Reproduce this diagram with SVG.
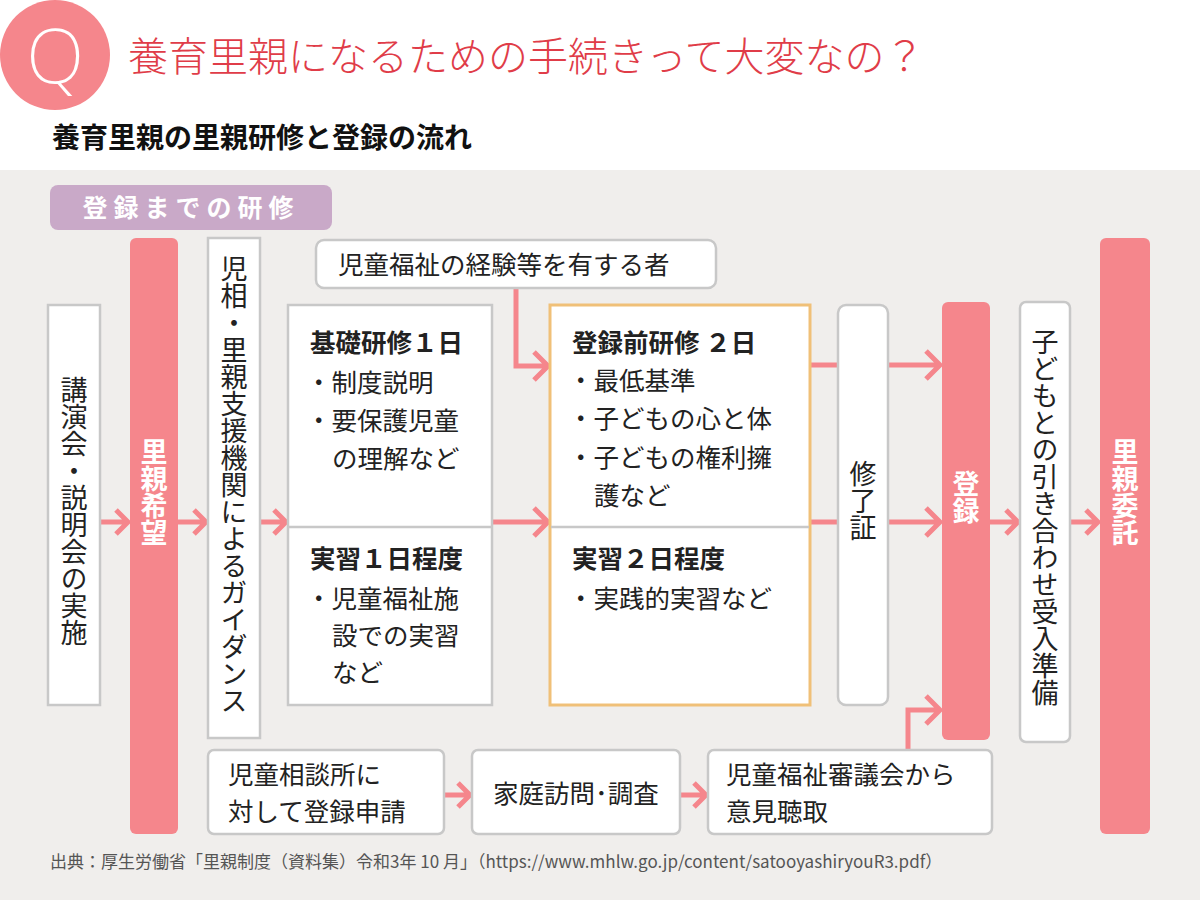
<svg xmlns="http://www.w3.org/2000/svg" width="1200" height="900" viewBox="0 0 1200 900">
<style>
text{font-family:"Noto Sans CJK JP","Noto Sans",sans-serif;fill:#222}
.box{fill:#fff;stroke:#c8c8c8;stroke-width:2.5}
.pink{fill:#f5868c}
.t{font-size:25.5px}
.h{font-size:25.5px;font-weight:bold}
.v{font-size:27px;writing-mode:vertical-rl}
.vw{font-size:27px;writing-mode:vertical-rl;fill:#fff;font-weight:bold}
.ar{fill:none;stroke:#f5868c;stroke-width:5;stroke-linecap:butt;stroke-linejoin:miter}
</style>
<rect width="1200" height="900" fill="#fff"/>
<rect y="170" width="1200" height="730" fill="#f0eeec"/>
<g id="header">
<circle cx="55" cy="55" r="55" fill="#f5868c"/>
<text x="55" y="83" text-anchor="middle" style="font-family:'Noto Sans',sans-serif;font-weight:200;font-size:76px;fill:#fff">Q</text>
<text x="128" y="71" style="font-size:40px;fill:#e03c48;font-weight:300">養育里親になるための手続きって大変なの？</text>
<text x="52" y="148" style="font-size:28px;font-weight:bold;fill:#111">養育里親の里親研修と登録の流れ</text>
</g>
<g id="label">
<rect x="50" y="185" width="282" height="45" rx="8" fill="#c9a9c8"/>
<text x="191" y="217" text-anchor="middle" style="font-size:25px;font-weight:bold;fill:#fff;letter-spacing:6px">登録までの研修</text>
</g>
<g id="connectors">
<path class="ar" d="M100 522H128M116 510l12 12-12 12"/>
<path class="ar" d="M178 522H206M194 510l12 12-12 12"/>
<path class="ar" d="M260 522H286M274 510l12 12-12 12"/>
<path class="ar" d="M492 522H548M534 508l14 14-14 14"/>
<path class="ar" d="M516 288V366H548M534 352l14 14-14 14"/>
<path class="ar" d="M810 365H838M810 522H838"/>
<path class="ar" d="M888 365H940M926 351l14 14-14 14"/>
<path class="ar" d="M888 522H940M926 508l14 14-14 14"/>
<path class="ar" d="M990 522H1018M1006 510l12 12-12 12"/>
<path class="ar" d="M1070 522H1098M1086 510l12 12-12 12"/>
<path class="ar" d="M444 795H470M458 783l12 12-12 12"/>
<path class="ar" d="M680 795H706M694 783l12 12-12 12"/>
<path class="ar" d="M908 750V710H940M926 696l14 14-14 14"/>
</g>
<g id="n1"><rect class="box" x="48" y="305" width="52" height="400"/><text class="v" x="74" y="376">講演会・説明会の実施</text></g>
<g id="n2"><rect class="pink" x="130" y="238" width="48" height="596" rx="6"/><text class="vw" x="154" y="438">里親希望</text></g>
<g id="n3"><rect class="box" x="208" y="238" width="52" height="500"/><text class="v" x="234" y="255">児相・里親支援機関によるガイダンス</text></g>
<g id="n4"><rect class="box" x="288" y="305" width="204" height="400"/><line x1="288" y1="527" x2="492" y2="527" stroke="#c8c8c8" stroke-width="2.5"/>
<text class="h" x="310" y="352">基礎研修１日</text><text class="t" x="306" y="392">・制度説明</text><text class="t" x="306" y="430">・要保護児童</text><text class="t" x="332" y="468">の理解など</text>
<text class="h" x="310" y="568">実習１日程度</text><text class="t" x="306" y="608">・児童福祉施</text><text class="t" x="332" y="645">設での実習</text><text class="t" x="332" y="682">など</text></g>
<g id="n5"><rect class="box" x="316" y="240" width="400" height="48" rx="8"/><text class="t" x="338" y="274">児童福祉の経験等を有する者</text></g>
<g id="n6"><rect x="550" y="305" width="260" height="400" fill="#fff" stroke="#f0c078" stroke-width="3"/><line x1="551" y1="527" x2="809" y2="527" stroke="#c8c8c8" stroke-width="2.5"/>
<text class="h" x="572" y="352">登録前研修 ２日</text><text class="t" x="568" y="390">・最低基準</text><text class="t" x="568" y="428">・子どもの心と体</text><text class="t" x="568" y="467">・子どもの権利擁</text><text class="t" x="594" y="505">護など</text>
<text class="h" x="572" y="568">実習２日程度</text><text class="t" x="568" y="608">・実践的実習など</text></g>
<g id="n7"><rect class="box" x="838" y="305" width="50" height="400" rx="8"/><text class="v" x="863" y="460">修了証</text></g>
<g id="n8"><rect class="pink" x="942" y="302" width="48" height="438" rx="6"/><text class="vw" x="966" y="470">登録</text></g>
<g id="n9"><rect class="box" x="1020" y="302" width="50" height="440" rx="6"/><text class="v" x="1045" y="328">子どもとの引き合わせ受入準備</text></g>
<g id="n10"><rect class="pink" x="1100" y="238" width="50" height="596" rx="6"/><text class="vw" x="1125" y="438">里親委託</text></g>
<g id="n11"><rect class="box" x="208" y="750" width="236" height="84" rx="6"/><text class="t" x="228" y="784">児童相談所に</text><text class="t" x="228" y="821">対して登録申請</text></g>
<g id="n12"><rect class="box" x="472" y="750" width="208" height="84" rx="6"/><text class="t" x="576" y="803" text-anchor="middle">家庭訪問･調査</text></g>
<g id="n13"><rect class="box" x="708" y="750" width="284" height="84" rx="6"/><text class="t" x="726" y="784">児童福祉審議会から</text><text class="t" x="726" y="821">意見聴取</text></g>
<text x="50" y="868" style="font-size:17px;fill:#555">出典：厚生労働省「里親制度（資料集）令和3年 10 月」（https://www.mhlw.go.jp/content/satooyashiryouR3.pdf）</text>
</svg>
